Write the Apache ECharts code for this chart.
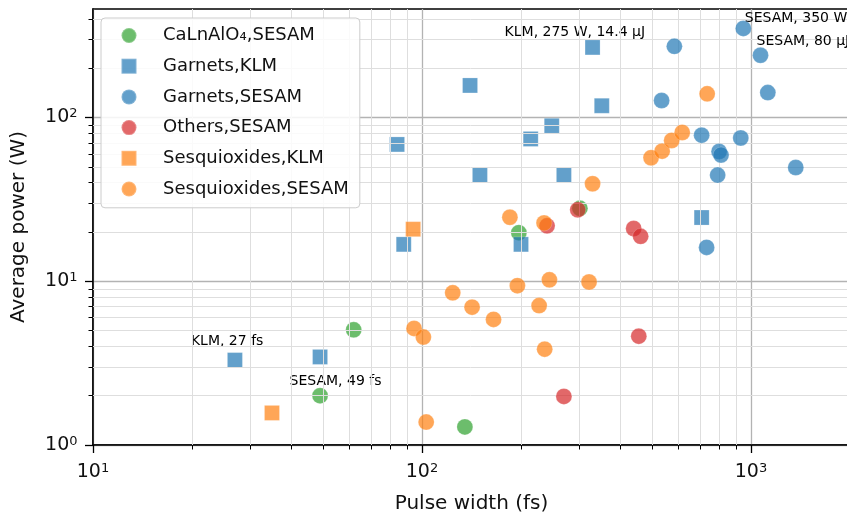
<!DOCTYPE html>
<html><head><meta charset="utf-8">
<script src="https://cdn.jsdelivr.net/npm/echarts@6/dist/echarts.min.js"></script>
<style>html,body{margin:0;padding:0;background:#fff}#c{width:847px;height:516px}</style>
</head><body><div id="c"></div>
<script>
// ---------- data ----------
const seriesNames = ['CaLnAlO₄,SESAM', 'Garnets,KLM', 'Garnets,SESAM', 'Others,SESAM', 'Sesquioxides,KLM', 'Sesquioxides,SESAM'];
// [pulse width (fs), average power (W)]
const caLnAlO4Sesam = [[49, 2.0], [62, 5.05], [135, 1.29], [197, 19.8], [302, 27.9]];
const garnetsKlm = [[27, 3.3], [49, 3.45], [84, 68.5], [88, 16.8], [140, 157], [150, 44.5], [200, 16.8], [214, 74], [248, 89], [270, 44.5], [330, 268], [352, 118], [708, 24.5]];
const garnetsSesam = [[535, 127], [585, 272], [708, 78], [733, 16.1], [792, 44.5], [800, 62], [811, 59], [931, 75], [948, 350], [1069, 240], [1125, 142], [1368, 49.5]];
const othersSesam = [[240, 21.8], [270, 1.98], [297.5, 27.3], [440, 21], [456, 4.62], [462, 18.8]];
const sesquioxidesKlm = [[35, 1.57], [94, 20.8]];
const sesquioxidesSesam = [[94.6, 5.15], [101, 4.56], [103, 1.38], [124, 8.5], [142, 6.95], [165, 5.85], [185, 24.6], [195, 9.4], [227, 7.1], [235, 22.7], [236, 3.85], [244, 10.2], [322, 9.9], [330, 39.4], [497, 56.8], [537, 62.3], [574, 72.4], [618, 81], [736, 139.5]];
const xMajorTicks = [10, 100, 1000];
const yMajorTicks = [1, 10, 100];
const xMinorTicks = [20, 30, 40, 50, 60, 70, 80, 90, 200, 300, 400, 500, 600, 700, 800, 900];
const yMinorTicks = [2, 3, 4, 5, 6, 7, 8, 9, 20, 30, 40, 50, 60, 70, 80, 90, 200, 300, 400];
// annotation texts: [series name, point index, text]
const annotationTexts = [
  ['Garnets,KLM', 0, 'KLM, 27 fs'],
  ['CaLnAlO₄,SESAM', 0, 'SESAM, 49 fs'],
  ['Garnets,KLM', 10, 'KLM, 275 W, 14.4 μJ'],
  ['Garnets,SESAM', 8, 'SESAM, 350 W'],
  ['Garnets,SESAM', 9, 'SESAM, 80 μJ']
];

// ---------- styling ----------
const FONT = 'DejaVu Sans';
const annOffsets = {
  'KLM, 27 fs': [-44, -18.5],
  'SESAM, 49 fs': [-30.5, -14.5],
  'KLM, 275 W, 14.4 μJ': [-88, -15.5],
  'SESAM, 350 W': [1.5, -10.5],
  'SESAM, 80 μJ': [-4, -13.5]
};
const defs = [
  { data: caLnAlO4Sesam, symbol: 'circle', rgb: '44,160,44' },
  { data: garnetsKlm, symbol: 'rect', rgb: '31,119,180' },
  { data: garnetsSesam, symbol: 'circle', rgb: '31,119,180' },
  { data: othersSesam, symbol: 'circle', rgb: '214,39,40' },
  { data: sesquioxidesKlm, symbol: 'rect', rgb: '255,127,14' },
  { data: sesquioxidesSesam, symbol: 'circle', rgb: '255,127,14' }
];

const series = defs.map((d, i) => {
  const name = seriesNames[i];
  const items = d.data.map((p, j) => {
    const ann = annotationTexts.find(a => a[0] === name && a[1] === j);
    if (!ann) return { value: p };
    return {
      value: p,
      label: {
        show: true, position: 'inside', align: 'left', verticalAlign: 'middle',
        offset: annOffsets[ann[2]], formatter: ann[2],
        color: '#000', opacity: 1, fontSize: 14, fontFamily: FONT, textBorderWidth: 0
      }
    };
  });
  return {
    type: 'scatter', name: name, symbol: d.symbol,
    symbolSize: d.symbol === 'rect' ? 15 : 16,
    data: items, z: 3 + i,
    itemStyle: { color: 'rgba(' + d.rgb + ',0.87)', borderColor: 'rgba(255,255,255,0.25)', borderWidth: 1 },
    emphasis: { disabled: true },
    animation: false
  };
});

// minor grid lines
series.unshift({
  type: 'scatter', name: '_grid', data: [], silent: true, z: 1,
  markLine: {
    silent: true, symbol: 'none', animation: false,
    label: { show: false },
    lineStyle: { color: '#dedede', width: 1, type: 'solid' },
    emphasis: { disabled: true },
    data: xMinorTicks.map(v => ({ xAxis: v })).concat(yMinorTicks.map(v => ({ yAxis: v })))
  }
});

function powLabel(v) {
  const e = Math.round(Math.log10(v));
  if (Math.abs(Math.log10(v) - e) > 1e-6) return '';
  return '{b|10}{s|' + e + '}';
}
const rich = {
  b: { fontSize: 19, lineHeight: 20, fontFamily: FONT, color: '#111' },
  s: { fontSize: 13, lineHeight: 12, verticalAlign: 'top', fontFamily: FONT, color: '#111' }
};

const X_MIN = 10, X_MAX = 2000, Y_MIN = 1, Y_MAX = 460;

const option = {
  backgroundColor: '#fff',
  animation: false,
  grid: { left: 93, top: 9, right: -3, bottom: 71, show: true, borderColor: '#000', borderWidth: 1.5, backgroundColor: 'transparent', outerBoundsMode: 'none', containLabel: false },
  legend: {
    data: seriesNames, orient: 'vertical', left: 101, top: 18, z: 20,
    padding: [8.5, 11, 9.8, 19.5], itemWidth: 15, itemHeight: 15, itemGap: 12.7,
    backgroundColor: 'rgba(255,255,255,0.85)', borderColor: '#cccccc', borderWidth: 1, borderRadius: 4,
    selectedMode: false,
    textStyle: { fontSize: 18, fontFamily: FONT, color: '#111', lineHeight: 15, padding: [0, 0, 0, 21.5] }
  },
  xAxis: [
    {
      type: 'log', logBase: 10, min: X_MIN, max: X_MAX, position: 'bottom',
      axisLine: { show: true, lineStyle: { color: '#000', width: 1.5 } },
      axisTick: { show: true, length: 8, customValues: xMajorTicks, lineStyle: { color: '#000', width: 1.3 } },
      axisLabel: { customValues: xMajorTicks, margin: 17, formatter: powLabel, rich: rich },
      splitLine: { show: true, lineStyle: { color: '#b3b3b3', width: 1.3 } },
      name: 'Pulse width (fs)', nameLocation: 'middle', nameGap: 49,
      nameTextStyle: { fontSize: 20, fontFamily: FONT, color: '#111' }
    },
    {
      type: 'log', logBase: 10, min: X_MIN, max: X_MAX, position: 'bottom',
      axisLine: { show: false },
      axisTick: { show: true, length: 4.5, customValues: xMinorTicks, lineStyle: { color: '#000', width: 1 } },
      axisLabel: { show: false },
      splitLine: { show: false }
    }
  ],
  yAxis: [
    {
      type: 'log', logBase: 10, min: Y_MIN, max: Y_MAX, position: 'left',
      axisLine: { show: true, lineStyle: { color: '#000', width: 1.5 } },
      axisTick: { show: true, length: 8, customValues: yMajorTicks, lineStyle: { color: '#000', width: 1.3 } },
      axisLabel: { customValues: yMajorTicks, margin: 15.5, formatter: powLabel, rich: rich },
      splitLine: { show: true, lineStyle: { color: '#b3b3b3', width: 1.3 } },
      name: 'Average power (W)', nameLocation: 'middle', nameGap: 64,
      nameTextStyle: { fontSize: 20, fontFamily: FONT, color: '#111' }
    },
    {
      type: 'log', logBase: 10, min: Y_MIN, max: Y_MAX, position: 'left',
      axisLine: { show: false },
      axisTick: { show: true, length: 4.5, customValues: yMinorTicks, lineStyle: { color: '#000', width: 1 } },
      axisLabel: { show: false },
      splitLine: { show: false }
    }
  ],
  series: series
};

const chart = echarts.init(document.getElementById('c'), null, { renderer: 'canvas' });
chart.setOption(option);
</script>
</body></html>
